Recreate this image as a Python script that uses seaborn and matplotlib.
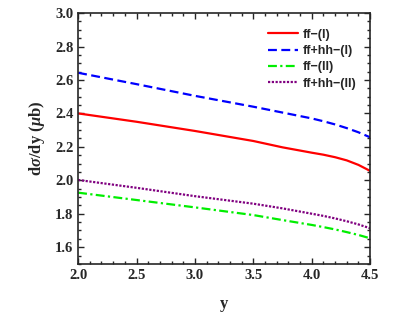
import numpy as np
import pandas as pd
import matplotlib
matplotlib.use("Agg")
import matplotlib.pyplot as plt
from matplotlib.ticker import MultipleLocator
import seaborn as sns

sns.set_style("ticks")
plt.rcParams['font.family'] = ['Liberation Serif', 'DejaVu Serif']
plt.rcParams['mathtext.fontset'] = 'custom'
plt.rcParams['mathtext.it'] = 'Liberation Serif:italic:bold'
plt.rcParams['mathtext.rm'] = 'Liberation Serif:bold'

y_vals = [2.0, 2.5, 3.0, 3.5, 3.75, 4.0, 4.1, 4.2, 4.3, 4.4, 4.5]
ff_I = [2.40, 2.35, 2.295, 2.235, 2.197, 2.165, 2.153, 2.138, 2.119, 2.092, 2.056]
ffhh_I = [2.643, 2.575, 2.505, 2.44, 2.405, 2.37, 2.353, 2.334, 2.312, 2.287, 2.257]
ff_II = [1.926, 1.882, 1.838, 1.792, 1.762, 1.733, 1.72, 1.706, 1.69, 1.673, 1.653]
ffhh_II = [2.002, 1.955, 1.905, 1.86, 1.832, 1.80, 1.787, 1.772, 1.755, 1.736, 1.713]

labels = ["ff\u2212(I)", "ff+hh\u2212(I)", "ff\u2212(II)", "ff+hh\u2212(II)"]
series = [ff_I, ffhh_I, ff_II, ffhh_II]
colors = ["#ff0000", "#0000ff", "#00ee00", "#800080"]
styles = ["-", (0, (4, 2)), (0, (4, 1.5, 1, 1.5)), (0, (1, 0.7))]

fig = plt.figure(figsize=(4.09, 3.27), dpi=100)
ax = fig.add_axes([0.191, 0.193, 0.714, 0.767])

for lab, vals, c, ls in zip(labels, series, colors, styles):
    df = pd.DataFrame({"y": y_vals, "v": vals})
    sns.lineplot(data=df, x="y", y="v", ax=ax, color=c, linestyle=ls, lw=1.6, label=lab)

ax.set_xlim(2.0, 4.5)
ax.set_ylim(1.5, 3.0)
ax.xaxis.set_major_locator(MultipleLocator(0.5))
ax.xaxis.set_minor_locator(MultipleLocator(0.1))
ax.yaxis.set_major_locator(MultipleLocator(0.2))
ax.yaxis.set_minor_locator(MultipleLocator(0.05))
ax.tick_params(which='both', direction='in', top=True, right=True, width=1)
ax.tick_params(which='major', length=4, labelsize=10.5)
ax.tick_params(which='minor', length=2)
for t in ax.get_xticklabels() + ax.get_yticklabels():
    t.set_fontweight('bold')
for s in ax.spines.values():
    s.set_linewidth(1.2)
ax.set_xlabel("y", fontsize=12, fontweight='bold', labelpad=10)
ax.set_ylabel(r"d$\sigma$/dy ($\mu$b)", fontsize=12, fontweight='bold', labelpad=6)

leg = ax.legend(loc='upper left', bbox_to_anchor=(0.65, 0.938), frameon=False,
                prop={'family': 'Liberation Sans', 'weight': 'bold', 'size': 9},
                handlelength=2.4, handletextpad=0.4, labelspacing=0.35,
                borderaxespad=0, borderpad=0)

fig.savefig("out.png", dpi=100)
